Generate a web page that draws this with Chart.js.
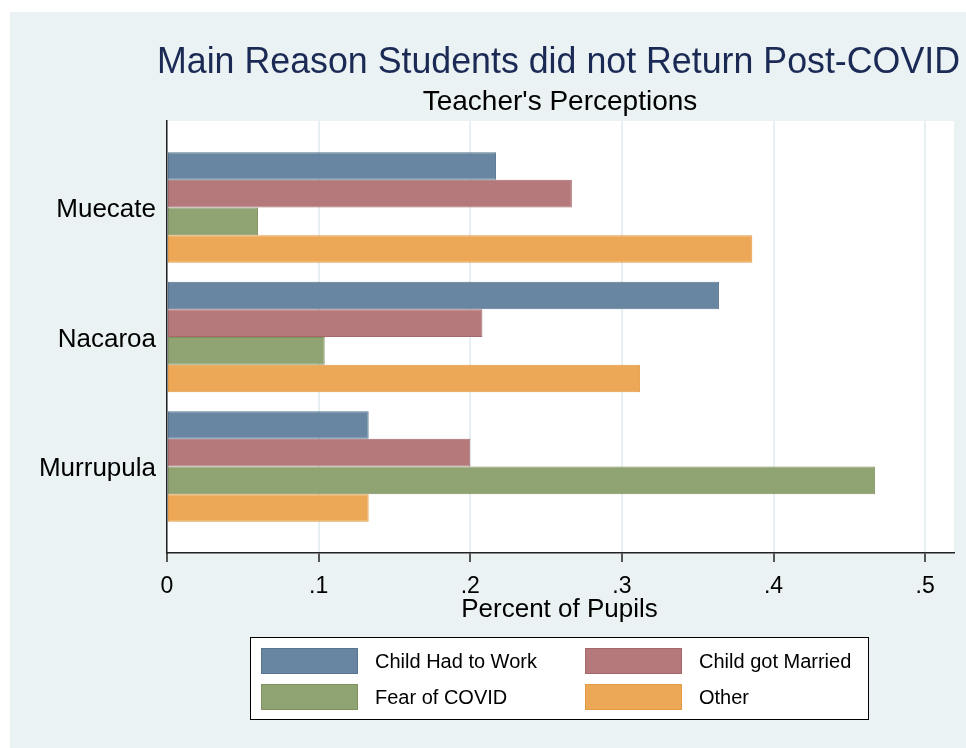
<!DOCTYPE html>
<html>
<head>
<meta charset="utf-8">
<script src="https://cdn.jsdelivr.net/npm/chart.js@4.4.1/dist/chart.umd.min.js"></script>
<style>
  html, body { margin: 0; padding: 0; background: #ffffff; }
  canvas { display: block; }
</style>
</head>
<body>
<canvas id="chart" width="966" height="748"></canvas>
<script>
// data
const districts = ["Muecate", "Nacaroa", "Murrupula"];
const childHadToWork = [0.217, 0.364, 0.133];
const childGotMarried = [0.267, 0.208, 0.200];
const fearOfCovid = [0.060, 0.104, 0.467];
const otherReason = [0.386, 0.312, 0.133];
const xTicks = [0, 0.1, 0.2, 0.3, 0.4, 0.5];
const seriesNames = ["Child Had to Work", "Child got Married", "Fear of COVID", "Other"];

const FONT = "'Liberation Sans', Arial, sans-serif";
const fills = ["#6886A1", "#B5797B", "#90A372", "#ECA856"];
const edges = ["#587690", "#A5696B", "#80935F", "#E39A45"];

function toPoints(values) {
  return values.map((v, i) => ({ x: v, y: i }));
}

const seriesValues = [childHadToWork, childGotMarried, fearOfCovid, otherReason];

// backdrop, plot area, titles and legend box
const stataLook = {
  id: "stataLook",
  beforeDraw(chart) {
    const ctx = chart.ctx;
    const a = chart.chartArea;
    ctx.save();
    ctx.fillStyle = "#ffffff";
    ctx.fillRect(0, 0, chart.width, chart.height);
    ctx.fillStyle = "#EAF2F3";
    ctx.fillRect(10, 12, chart.width - 10, chart.height - 12);
    ctx.fillStyle = "#ffffff";
    ctx.fillRect(a.left, a.top, a.right - a.left, a.bottom - a.top);
    ctx.restore();
  },
  afterDraw(chart) {
    const ctx = chart.ctx;
    ctx.save();
    ctx.textAlign = "center";
    ctx.textBaseline = "alphabetic";

    ctx.fillStyle = "#1B2A55";
    ctx.font = "36px " + FONT;
    ctx.fillText("Main Reason Students did not Return Post-COVID", 558.5, 73, 803);

    ctx.fillStyle = "#000000";
    ctx.font = "28px " + FONT;
    ctx.fillText("Teacher's Perceptions", 560, 110, 276);

    ctx.font = "26px " + FONT;
    ctx.fillText("Percent of Pupils", 559.5, 616.5, 198);

    // legend
    ctx.fillStyle = "#ffffff";
    ctx.fillRect(250, 637, 619, 83);
    ctx.strokeStyle = "#000000";
    ctx.lineWidth = 1;
    ctx.strokeRect(250.5, 637.5, 618, 82);

    const cols = [261, 585];
    const rows = [648, 684];
    ctx.textAlign = "left";
    ctx.textBaseline = "middle";
    ctx.font = "20px " + FONT;
    chart.data.datasets.forEach((ds, i) => {
      const x = cols[i % 2];
      const y = rows[Math.floor(i / 2)];
      ctx.fillStyle = ds.backgroundColor;
      ctx.fillRect(x, y, 97, 26);
      ctx.strokeStyle = ds.borderColor;
      ctx.strokeRect(x + 0.5, y + 0.5, 96, 25);
      ctx.fillStyle = "#000000";
      ctx.fillText(ds.label, x + 114, y + 14);
    });
    ctx.restore();
  },
};

new Chart(document.getElementById("chart"), {
  type: "bar",
  data: {
    datasets: seriesValues.map((vals, i) => ({
      label: seriesNames[i],
      data: toPoints(vals),
      backgroundColor: fills[i],
      borderColor: edges[i],
      borderWidth: 1,
      borderSkipped: false,
      categoryPercentage: 0.854,
      barPercentage: 1,
    })),
  },
  options: {
    indexAxis: "y",
    responsive: false,
    animation: false,
    devicePixelRatio: 1,
    layout: { padding: { left: 0, top: 121, right: 12, bottom: 0 } },
    plugins: {
      legend: { display: false },
      title: { display: false },
      tooltip: { enabled: false },
    },
    scales: {
      x: {
        type: "linear",
        min: 0,
        max: 0.519,
        afterFit: (s) => { s.height = 195; },
        afterBuildTicks: (s) => { s.ticks = xTicks.map((v) => ({ value: v })); },
        ticks: {
          includeBounds: false,
          padding: 11,
          color: "#000000",
          font: { family: FONT, size: 23 },
          callback: (v) => (v === 0 ? "0" : v.toFixed(1).replace(/^0/, "")),
        },
        grid: {
          color: "#E6EFF1",
          lineWidth: 2,
          drawTicks: true,
          tickLength: 9,
          tickColor: "#222222",
          tickWidth: 1.5,
        },
        border: { display: true, color: "#222222", width: 1.5 },
      },
      y: {
        type: "linear",
        offset: false,
        reverse: true,
        min: -0.668,
        max: 2.668,
        afterFit: (s) => { s.width = 167; },
        afterBuildTicks: (s) => { s.ticks = districts.map((d, i) => ({ value: i })); },
        ticks: {
          padding: 11,
          labelOffset: 2.5,
          color: "#000000",
          font: { family: FONT, size: 26 },
          callback: (v) => districts[v],
        },
        grid: { display: false, drawTicks: false, offset: false },
        border: { display: true, color: "#222222", width: 1.5 },
      },
    },
  },
  plugins: [stataLook],
});
</script>
</body>
</html>
